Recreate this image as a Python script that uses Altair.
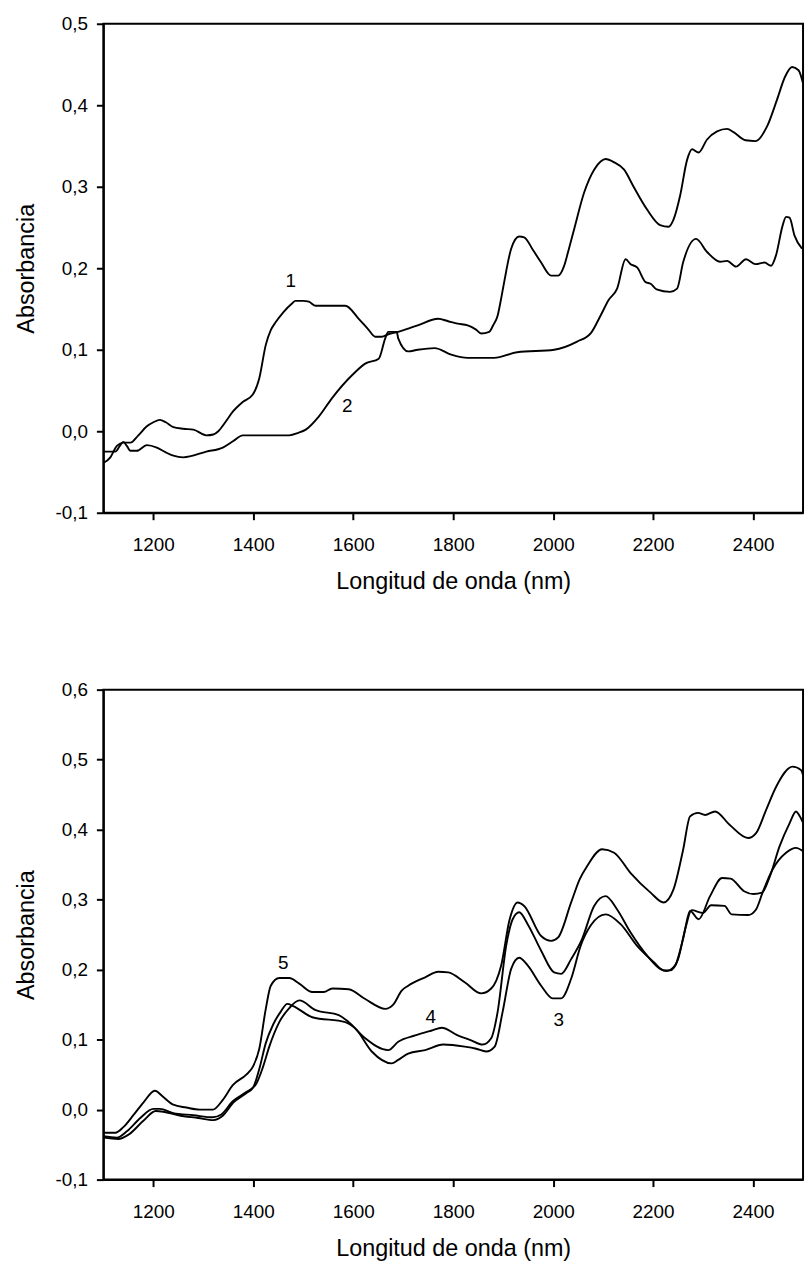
import altair as alt
import pandas as pd

# ---- Top panel (spectra 1 and 2) ----
c1_nm = [1100, 1114, 1127, 1140, 1154, 1170, 1187, 1200, 1213, 1225, 1240, 1260, 1280, 1306, 1320, 1330,
         1345, 1359, 1379, 1399, 1412, 1425, 1435, 1445, 1460, 1478, 1484, 1500, 1511, 1525, 1584, 1611,
         1630, 1644, 1657, 1670, 1690, 1710, 1729, 1770, 1790, 1809, 1829, 1845, 1856, 1872, 1880, 1889,
         1896, 1902, 1916, 1932, 1942, 1960, 1976, 1996, 2010, 2022, 2032, 2042, 2062, 2082, 2095, 2105,
         2122, 2142, 2161, 2188, 2214, 2231, 2241, 2254, 2268, 2278, 2291, 2308, 2328, 2348, 2361, 2385,
         2405, 2428, 2448, 2464, 2478, 2491, 2500]
c1_ab = [-0.039, -0.032, -0.018, -0.014, -0.014, -0.005, 0.006, 0.011, 0.014, 0.011, 0.005, 0.003, 0.002,
         -0.005, -0.004, 0.000, 0.012, 0.024, 0.036, 0.045, 0.065, 0.106, 0.124, 0.134, 0.146, 0.157, 0.160,
         0.160, 0.159, 0.154, 0.154, 0.138, 0.125, 0.116, 0.116, 0.119, 0.122, 0.126, 0.130, 0.138, 0.135,
         0.132, 0.130, 0.125, 0.120, 0.122, 0.130, 0.142, 0.163, 0.183, 0.224, 0.239, 0.238, 0.222, 0.207,
         0.191, 0.191, 0.203, 0.225, 0.248, 0.293, 0.321, 0.331, 0.334, 0.330, 0.321, 0.300, 0.272, 0.253,
         0.251, 0.260, 0.289, 0.333, 0.346, 0.342, 0.358, 0.368, 0.371, 0.367, 0.357, 0.356, 0.374, 0.407,
         0.435, 0.447, 0.443, 0.427]

c2_nm = [1100, 1124, 1133, 1140, 1147, 1154, 1167, 1187, 1207, 1225, 1240, 1260, 1306, 1339, 1360, 1379,
         1472, 1490, 1505, 1531, 1558, 1598, 1624, 1651, 1664, 1670, 1687, 1690, 1710, 1729, 1763, 1796,
         1829, 1882, 1928, 2002, 2048, 2075, 2095, 2111, 2128, 2145, 2155, 2168, 2185, 2195, 2207, 2234,
         2248, 2260, 2286, 2308, 2334, 2348, 2366, 2386, 2405, 2423, 2436, 2446, 2459, 2466, 2473, 2483, 2498]
c2_ab = [-0.025, -0.025, -0.018, -0.013, -0.018, -0.024, -0.024, -0.017, -0.020, -0.026, -0.030, -0.032,
         -0.025, -0.020, -0.012, -0.005, -0.005, -0.002, 0.002, 0.018, 0.041, 0.069, 0.083, 0.089, 0.114,
         0.122, 0.122, 0.114, 0.098, 0.100, 0.102, 0.094, 0.090, 0.090, 0.097, 0.100, 0.110, 0.120, 0.142,
         0.161, 0.175, 0.211, 0.205, 0.201, 0.183, 0.181, 0.174, 0.171, 0.175, 0.207, 0.236, 0.220, 0.208,
         0.209, 0.202, 0.211, 0.205, 0.207, 0.203, 0.216, 0.252, 0.263, 0.262, 0.240, 0.224]

top_label_text = ["1", "2"]
top_label_nm = [1475, 1588]
top_label_ab = [0.184, 0.031]

# ---- Bottom panel (spectra 3, 4 and 5) ----
c5_nm = [1100, 1124, 1140, 1160, 1180, 1203, 1220, 1240, 1266, 1293, 1319, 1339, 1359, 1386, 1399, 1412,
         1425, 1435, 1452, 1472, 1492, 1518, 1541, 1558, 1591, 1624, 1664, 1680, 1697, 1710, 1744, 1770,
         1790, 1823, 1856, 1876, 1896, 1913, 1929, 1942, 1976, 1996, 2010, 2036, 2053, 2068, 2098, 2122,
         2155, 2195, 2221, 2241, 2260, 2274, 2290, 2304, 2324, 2353, 2390, 2406, 2426, 2446, 2479, 2496, 2500]
c5_ab = [-0.033, -0.033, -0.025, -0.008, 0.010, 0.027, 0.018, 0.007, 0.003, 0.000, 0.000, 0.014, 0.035,
         0.050, 0.061, 0.087, 0.144, 0.177, 0.188, 0.188, 0.180, 0.168, 0.168, 0.173, 0.172, 0.158, 0.144,
         0.150, 0.170, 0.177, 0.189, 0.197, 0.196, 0.182, 0.166, 0.173, 0.206, 0.272, 0.296, 0.291, 0.248,
         0.241, 0.246, 0.296, 0.329, 0.348, 0.372, 0.367, 0.338, 0.310, 0.296, 0.315, 0.371, 0.419, 0.424,
         0.421, 0.426, 0.407, 0.388, 0.395, 0.428, 0.461, 0.490, 0.485, 0.478]

c4_nm = [1100, 1127, 1147, 1174, 1200, 1213, 1240, 1280, 1319, 1336, 1359, 1386, 1406, 1419, 1432, 1452,
         1472, 1492, 1525, 1571, 1591, 1624, 1670, 1690, 1724, 1757, 1777, 1809, 1836, 1859, 1876, 1889,
         1906, 1919, 1932, 1949, 1976, 2002, 2016, 2036, 2058, 2082, 2105, 2128, 2155, 2188, 2214, 2227,
         2244, 2260, 2274, 2291, 2314, 2338, 2355, 2382, 2401, 2418, 2434, 2453, 2473, 2486, 2492, 2500]
c4_ab = [-0.038, -0.040, -0.031, -0.012, 0.001, 0.001, -0.005, -0.008, -0.011, -0.007, 0.012, 0.025, 0.037,
         0.060, 0.090, 0.125, 0.145, 0.156, 0.142, 0.135, 0.125, 0.102, 0.085, 0.097, 0.106, 0.113, 0.117,
         0.106, 0.099, 0.093, 0.102, 0.140, 0.234, 0.272, 0.282, 0.265, 0.227, 0.196, 0.194, 0.215, 0.244,
         0.291, 0.305, 0.286, 0.253, 0.220, 0.201, 0.198, 0.206, 0.244, 0.284, 0.272, 0.305, 0.331, 0.330,
         0.312, 0.308, 0.310, 0.334, 0.376, 0.409, 0.426, 0.421, 0.410]

c3_nm = [1100, 1130, 1150, 1180, 1205, 1220, 1250, 1290, 1320, 1340, 1360, 1385, 1400, 1412, 1425, 1440,
         1455, 1468, 1480, 1518, 1584, 1604, 1637, 1677, 1690, 1710, 1744, 1780, 1823, 1846, 1866, 1883,
         1899, 1916, 1932, 1949, 1976, 1999, 2016, 2036, 2055, 2075, 2105, 2135, 2168, 2201, 2221, 2234,
         2250, 2265, 2277, 2300, 2316, 2343, 2357, 2390, 2406, 2419, 2439, 2466, 2486, 2500]
c3_ab = [-0.040, -0.042, -0.036, -0.016, -0.002, -0.003, -0.008, -0.012, -0.015, -0.008, 0.010, 0.023,
         0.032, 0.058, 0.095, 0.122, 0.140, 0.151, 0.148, 0.132, 0.125, 0.116, 0.083, 0.066, 0.071, 0.080,
         0.085, 0.093, 0.090, 0.087, 0.083, 0.090, 0.140, 0.201, 0.217, 0.206, 0.177, 0.159, 0.159, 0.187,
         0.234, 0.263, 0.279, 0.265, 0.234, 0.211, 0.199, 0.199, 0.215, 0.260, 0.285, 0.281, 0.292, 0.291,
         0.279, 0.278, 0.286, 0.310, 0.343, 0.367, 0.374, 0.369]

bot_label_text = ["5", "4", "3"]
bot_label_nm = [1460, 1755, 2011]
bot_label_ab = [0.210, 0.132, 0.128]

x_ticks = [1200, 1400, 1600, 1800, 2000, 2200, 2400]
y_ticks_top = [-0.1, 0.0, 0.1, 0.2, 0.3, 0.4, 0.5]
y_ticks_bot = [-0.1, 0.0, 0.1, 0.2, 0.3, 0.4, 0.5, 0.6]

FONT = "Liberation Sans"
LABEL_EXPR = "replace(replace(format(datum.value, '.1f'), '.', ','), '\u2212', '-')"


def spectra_frame(series):
    rows = []
    for name, nm, ab in series:
        for a, b in zip(nm, ab):
            rows.append({"serie": name, "nm": a, "abs": b})
    return pd.DataFrame(rows)


def panel(series, labels, y_domain, y_ticks, height):
    df = spectra_frame(series)
    lab = pd.DataFrame({"t": labels[0], "nm": labels[1], "abs": labels[2]})
    x = alt.X("nm:Q",
              scale=alt.Scale(domain=[1100, 2500], nice=False, zero=False),
              axis=alt.Axis(values=x_ticks, title="Longitud de onda (nm)", format="d",
                            labelPadding=16, titlePadding=15))
    y = alt.Y("abs:Q",
              scale=alt.Scale(domain=y_domain, nice=False, zero=False),
              axis=alt.Axis(values=y_ticks, title="Absorbancia", labelExpr=LABEL_EXPR,
                            labelPadding=9, titlePadding=17))
    lines = alt.Chart(df).mark_line(color="black", strokeWidth=1.9, interpolate="monotone").encode(
        x=x, y=y, detail="serie:N")
    texts = alt.Chart(lab).mark_text(font=FONT, fontSize=19, color="black", baseline="middle",
                                     align="center").encode(
        x=alt.X("nm:Q", scale=alt.Scale(domain=[1100, 2500], nice=False, zero=False)),
        y=alt.Y("abs:Q", scale=alt.Scale(domain=y_domain, nice=False, zero=False)),
        text="t:N")
    return alt.layer(lines, texts).properties(width=704, height=height)


top = panel([("1", c1_nm, c1_ab), ("2", c2_nm, c2_ab)],
            (top_label_text, top_label_nm, top_label_ab), [-0.1, 0.5], y_ticks_top, 492)
bottom = panel([("5", c5_nm, c5_ab), ("4", c4_nm, c4_ab), ("3", c3_nm, c3_ab)],
               (bot_label_text, bot_label_nm, bot_label_ab), [-0.1, 0.6], y_ticks_bot, 493)

chart = alt.vconcat(top, bottom, spacing=86).properties(
    padding={"left": 13, "top": 10, "right": 0, "bottom": 0},
    background="white",
).configure_view(stroke="black", strokeWidth=2).configure_axis(
    labelFont=FONT, titleFont=FONT, labelFontSize=19, titleFontSize=23.5, titleFontWeight="normal",
    labelColor="black", titleColor="black", domainColor="black", tickColor="black",
    domainWidth=2, tickWidth=2, tickSize=7, grid=False,
)

chart.save("out.html", embed_options={"renderer": "svg", "actions": False})
